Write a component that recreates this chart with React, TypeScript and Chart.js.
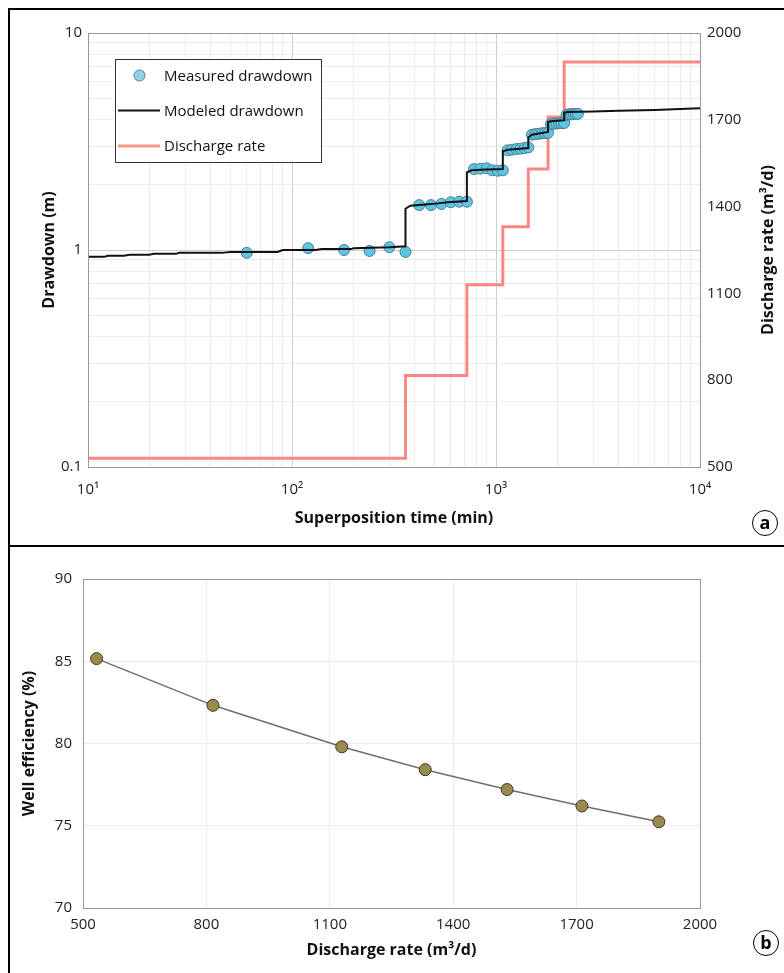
import React, { useEffect, useRef } from 'react';
import { Chart, registerables } from 'chart.js';

Chart.register(...registerables);

const FONT = '"Open Sans", "DejaVu Sans", sans-serif';

// ---------- Panel (a) data ----------
const stepTimes = [10, 360, 720, 1080, 1440, 1800, 2160, 10000];
const stepRates = [530, 816, 1130, 1330, 1530, 1710, 1900, 1900];

const measuredTimes = [
  60, 120, 180, 240, 300, 360,
  420, 480, 540, 600, 660, 720,
  780, 840, 900, 960, 1020, 1080,
  1140, 1200, 1260, 1320, 1380, 1440,
  1500, 1560, 1620, 1680, 1740, 1800,
  1860, 1920, 1980, 2040, 2100, 2160,
  2220, 2280, 2340, 2400, 2460, 2520,
];
const measuredDrawdown = [
  0.97, 1.02, 1.0, 0.99, 1.03, 0.98,
  1.61, 1.61, 1.63, 1.66, 1.67, 1.67,
  2.36, 2.37, 2.38, 2.33, 2.32, 2.33,
  2.88, 2.9, 2.92, 2.93, 2.95, 2.97,
  3.4, 3.42, 3.43, 3.45, 3.46, 3.47,
  3.8, 3.82, 3.83, 3.84, 3.84, 3.85,
  4.2, 4.22, 4.22, 4.23, 4.24, 4.24,
];

const modeledTimes = [
  10, 12, 12.5, 15, 16, 20, 21, 27, 28, 45, 50, 85, 90, 130, 140, 195, 200, 300, 360,
  360, 380, 450, 520, 580, 720,
  720, 760, 900, 1080,
  1080, 1150, 1440,
  1440, 1500, 1800,
  1800, 1900, 2160,
  2160, 2250, 3000, 4000, 6000, 8000, 10000,
];
const modeledDrawdown = [
  0.93, 0.93, 0.94, 0.94, 0.95, 0.95, 0.96, 0.96, 0.97, 0.97, 0.98, 0.98, 1.0, 1.0, 1.01, 1.01, 1.02, 1.03, 1.04,
  1.55, 1.6, 1.62, 1.64, 1.66, 1.68,
  2.28, 2.33, 2.35, 2.36,
  2.85, 2.9, 2.95,
  3.3, 3.4, 3.5,
  3.9, 3.93, 3.96,
  4.3, 4.32, 4.35, 4.38, 4.42, 4.46, 4.5,
];

const xMajorTicks = [10, 100, 1000, 10000];
const xTickLabels = ['10¹', '10²', '10³', '10⁴'];
const yMajorTicks = [0.1, 1, 10];
const yTickLabels = ['0.1', '1', '10'];

// ---------- Panel (b) data ----------
const efficiencyRates = [533, 816, 1129, 1332, 1531, 1713, 1900];
const wellEfficiency = [85.16, 82.32, 79.8, 78.41, 77.2, 76.2, 75.24];

const isPow10 = (v: number) => {
  const l = Math.log10(v);
  return Math.abs(l - Math.round(l)) < 1e-9;
};

// log grid positions (1..9 x 10^n)
const logGrid = (min: number, max: number) => {
  const out: number[] = [];
  for (let e = Math.floor(Math.log10(min)); e <= Math.ceil(Math.log10(max)); e++) {
    for (let d = 1; d <= 9; d++) {
      const v = parseFloat((d * Math.pow(10, e)).toPrecision(6));
      if (v >= min - 1e-12 && v <= max + 1e-9) out.push(v);
    }
  }
  return out;
};

const labelFor = (v: number, majors: number[], labels: string[]) => {
  const i = majors.findIndex((m) => Math.abs(m - v) / m < 1e-6);
  return i >= 0 ? labels[i] : '';
};

const plainNumber = (v: any) => String(Number(v));

const framePlugin = {
  id: 'frame',
  afterDatasetsDraw(chart: any, _a: any, opts: any) {
    const { ctx, chartArea } = chart;
    ctx.save();
    ctx.strokeStyle = opts.color || '#999';
    ctx.lineWidth = 1;
    ctx.strokeRect(
      Math.round(chartArea.left) + 0.5,
      Math.round(chartArea.top) + 0.5,
      Math.round(chartArea.right - chartArea.left),
      Math.round(chartArea.bottom - chartArea.top)
    );
    ctx.restore();
  },
};

const boxLegendPlugin = {
  id: 'boxLegend',
  afterDraw(chart: any, _a: any, opts: any) {
    if (!opts || !opts.display) return;
    const { ctx } = chart;
    const { x, y, w, h, rows, symX, lineX0, lineX1, textX } = opts;
    ctx.save();
    ctx.fillStyle = '#fff';
    ctx.fillRect(x, y, w, h);
    ctx.strokeStyle = '#333';
    ctx.lineWidth = 1;
    ctx.strokeRect(x + 0.5, y + 0.5, w, h);
    chart.data.datasets.forEach((ds: any, i: number) => {
      const ry = rows[i];
      if (ds.showLine === false) {
        ctx.beginPath();
        ctx.arc(symX, ry, 5.5, 0, Math.PI * 2);
        ctx.fillStyle = opts.pointFill || ds.pointBackgroundColor;
        ctx.fill();
        ctx.lineWidth = 1;
        ctx.strokeStyle = ds.pointBorderColor;
        ctx.stroke();
      } else {
        ctx.beginPath();
        ctx.moveTo(lineX0, ry);
        ctx.lineTo(lineX1, ry);
        ctx.strokeStyle = ds.legendColor || ds.borderColor;
        ctx.lineWidth = ds.borderWidth;
        ctx.stroke();
      }
      ctx.fillStyle = '#111';
      ctx.font = `15px ${FONT}`;
      ctx.textBaseline = 'middle';
      ctx.textAlign = 'left';
      ctx.fillText(ds.label, textX, ry + 1);
    });
    ctx.restore();
  },
};

const sideTitlePlugin = {
  id: 'sideTitle',
  afterDraw(chart: any, _a: any, opts: any) {
    if (!opts || !opts.text) return;
    const { ctx, chartArea } = chart;
    ctx.save();
    ctx.translate(opts.x, (chartArea.top + chartArea.bottom) / 2 + (opts.dy || 0));
    ctx.rotate(-Math.PI / 2);
    ctx.font = `bold ${opts.size}px ${FONT}`;
    ctx.fillStyle = '#111';
    ctx.textAlign = 'center';
    ctx.textBaseline = 'middle';
    ctx.fillText(opts.text, 0, 0);
    ctx.restore();
  },
};

const tickFont = { family: FONT, size: 15 };
const titleFont = { family: FONT, size: 16, weight: 'bold' as const };

function App() {
  const refA = useRef<HTMLCanvasElement>(null);
  const refB = useRef<HTMLCanvasElement>(null);

  useEffect(() => {
    Chart.defaults.font.family = FONT;
    const chartA = new Chart(refA.current as HTMLCanvasElement, {
      type: 'scatter',
      data: {
        datasets: [
          {
            label: 'Measured drawdown',
            data: measuredTimes.map((t, i) => ({ x: t, y: measuredDrawdown[i] })),
            yAxisID: 'y',
            showLine: false,
            pointRadius: 5.5,
            pointBackgroundColor: '#5CC6E3',
            pointBorderColor: '#4A7F96',
            pointBorderWidth: 1,
            order: 2,
          } as any,
          {
            label: 'Modeled drawdown',
            data: modeledTimes.map((t, i) => ({ x: t, y: modeledDrawdown[i] })),
            yAxisID: 'y',
            showLine: true,
            borderColor: '#111111',
            borderWidth: 2,
            pointRadius: 0,
            order: 1,
          },
          {
            label: 'Discharge rate',
            data: stepTimes.map((t, i) => ({ x: t, y: stepRates[i] })),
            yAxisID: 'y2',
            showLine: true,
            stepped: 'before',
            borderColor: '#FF8585',
            legendColor: '#F79A84',
            borderWidth: 3,
            pointRadius: 0,
            order: 3,
          } as any,
        ],
      },
      options: {
        animation: false,
        responsive: false,
        maintainAspectRatio: false,
        layout: { padding: { top: 23, left: 0, right: 0, bottom: 0 } },
        plugins: {
          legend: { display: false },
          tooltip: { enabled: false },
          frame: { color: '#999' },
          boxLegend: {
            display: true,
            x: 105, y: 49, w: 206, h: 103,
            rows: [65.5, 100.5, 136],
            symX: 129.5, lineX0: 108, lineX1: 150, textX: 154,
            pointFill: '#8FD0EC',
          },
          sideTitle: { text: 'Discharge rate (m³/d)', x: 758, size: 16, dy: 0 },
        } as any,
        scales: {
          x: {
            type: 'logarithmic',
            position: 'bottom',
            min: 10,
            max: 10000,
            afterBuildTicks: (s: any) => {
              s.ticks = logGrid(10, 10000).map((v) => ({ value: v, major: isPow10(v) }));
            },
            afterFit: (s: any) => { s.height = 78; },
            grid: {
              color: (c: any) => (c.tick && isPow10(c.tick.value) ? '#cdcdcd' : '#ececec'),
              drawTicks: false,
            },
            border: { display: true, color: '#999' },
            ticks: {
              autoSkip: false,
              maxRotation: 0,
              padding: 14,
              color: '#222',
              font: tickFont,
              callback: (v: any) => labelFor(Number(v), xMajorTicks, xTickLabels),
            },
            title: {
              display: true,
              text: 'Superposition time (min)',
              font: titleFont,
              color: '#111',
              padding: { top: 0, bottom: 17 },
            },
          },
          y: {
            type: 'logarithmic',
            position: 'left',
            min: 0.1,
            max: 10,
            afterBuildTicks: (s: any) => {
              s.ticks = logGrid(0.1, 10).map((v) => ({ value: v, major: isPow10(v) }));
            },
            afterFit: (s: any) => { s.width = 78; },
            grid: {
              color: (c: any) => (c.tick && isPow10(c.tick.value) ? '#cdcdcd' : '#ececec'),
              drawTicks: false,
            },
            border: { display: true, color: '#999' },
            ticks: {
              autoSkip: false,
              padding: 6,
              color: '#222',
              font: tickFont,
              callback: (v: any) => labelFor(Number(v), yMajorTicks, yTickLabels),
            },
            title: {
              display: true,
              text: 'Drawdown (m)',
              font: titleFont,
              color: '#111',
              padding: { top: 30, bottom: 0 },
            },
          },
          y2: {
            type: 'linear',
            position: 'right',
            min: 500,
            max: 2000,
            afterFit: (s: any) => { s.width = 84; },
            grid: { drawOnChartArea: false, drawTicks: false },
            border: { display: true, color: '#999' },
            ticks: { stepSize: 300, padding: 7, color: '#222', font: tickFont, callback: plainNumber },
          },
        },
      } as any,
      plugins: [framePlugin, boxLegendPlugin, sideTitlePlugin],
    });

    const chartB = new Chart(refB.current as HTMLCanvasElement, {
      type: 'scatter',
      data: {
        datasets: [
          {
            label: 'Well efficiency',
            data: efficiencyRates.map((r, i) => ({ x: r, y: wellEfficiency[i] })),
            showLine: true,
            borderColor: '#6E6E6E',
            borderWidth: 1.5,
            tension: 0,
            pointRadius: 6,
            pointBackgroundColor: '#9A8A4E',
            pointBorderColor: '#3D3720',
            pointBorderWidth: 1,
          },
        ],
      },
      options: {
        animation: false,
        responsive: false,
        maintainAspectRatio: false,
        layout: { padding: { top: 32, left: 0, right: 84, bottom: 0 } },
        plugins: {
          legend: { display: false },
          tooltip: { enabled: false },
          frame: { color: '#999' },
        } as any,
        scales: {
          x: {
            type: 'linear',
            min: 500,
            max: 2000,
            afterFit: (s: any) => { s.height = 65; },
            grid: { color: '#ececec', drawTicks: false },
            border: { display: true, color: '#999' },
            ticks: { stepSize: 300, padding: 8, color: '#222', font: tickFont, maxRotation: 0, callback: plainNumber },
            title: {
              display: true,
              text: 'Discharge rate (m³/d)',
              font: titleFont,
              color: '#111',
              padding: { top: 0, bottom: 13 },
            },
          },
          y: {
            type: 'linear',
            min: 70,
            max: 90,
            afterFit: (s: any) => { s.width = 73; },
            grid: { color: '#ececec', drawTicks: false },
            border: { display: true, color: '#999' },
            ticks: { stepSize: 5, padding: 11, color: '#222', font: tickFont, callback: plainNumber },
            title: {
              display: true,
              text: 'Well efficiency (%)',
              font: titleFont,
              color: '#111',
              padding: { top: 10, bottom: 0 },
            },
          },
        },
      } as any,
      plugins: [framePlugin],
    });

    return () => {
      chartA.destroy();
      chartB.destroy();
    };
  }, []);

  const badge = (left: number, top: number, letter: string) => (
    <div
      style={{
        position: 'absolute',
        left: left - 13,
        top: top - 13,
        width: 26,
        height: 26,
        boxSizing: 'border-box',
        border: '1.5px solid #000',
        borderRadius: '50%',
        background: '#fff',
        fontFamily: FONT,
        fontWeight: 'bold',
        fontSize: 18,
        lineHeight: '22px',
        textAlign: 'center',
        color: '#000',
      }}
    >
      {letter}
    </div>
  );

  return (
    <div
      style={{
        position: 'fixed',
        left: 0,
        top: 0,
        width: 784,
        height: 973,
        overflow: 'hidden',
        background: '#fff',
      }}
    >
      <div
        style={{
          position: 'absolute',
          left: 8,
          top: 8,
          width: 776,
          height: 539,
          boxSizing: 'border-box',
          borderTop: '2px solid #000',
          borderLeft: '2px solid #000',
          borderBottom: '2px solid #000',
        }}
      />
      <div
        style={{
          position: 'absolute',
          left: 8,
          top: 547,
          width: 776,
          height: 426,
          boxSizing: 'border-box',
          borderLeft: '2px solid #000',
        }}
      />
      <canvas
        ref={refA}
        width={774}
        height={535}
        style={{ position: 'absolute', left: 10, top: 10, width: 774, height: 535 }}
      />
      <canvas
        ref={refB}
        width={774}
        height={426}
        style={{ position: 'absolute', left: 10, top: 547, width: 774, height: 426 }}
      />
      {badge(765, 523, 'a')}
      {badge(766, 943, 'b')}
    </div>
  );
}

export default App;
